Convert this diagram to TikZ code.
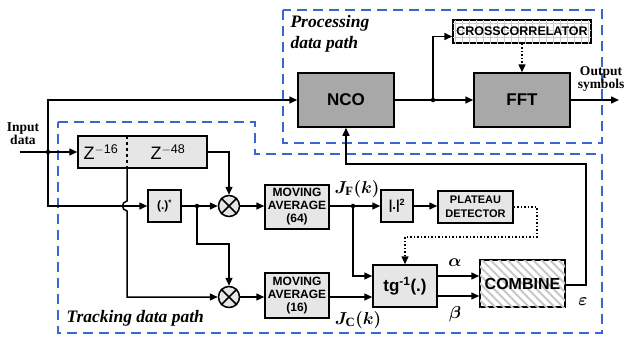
\documentclass[tikz,border=0pt]{standalone}
\usepackage{fontspec}
\setmainfont{Liberation Serif}
\setsansfont{Liberation Sans}
\usetikzlibrary{arrows.meta,patterns.meta}
\newcommand{\fsz}[2]{\fontsize{#1}{#2}\selectfont}

\begin{document}
\begin{tikzpicture}[x=1pt,y=-1pt]
    \definecolor{mypath}{RGB}{60,100,215}
    \definecolor{mydark}{RGB}{168,168,168}
    \definecolor{mylight}{RGB}{230,230,230}
    \tikzset{
        blkbox/.style={draw, line width=1.5pt, fill=mylight, inner sep=0pt,
            align=center, font=\sffamily\bfseries\fsz{12}{13}},
        darkbox/.style={blkbox, fill=mydark, font=\sffamily\bfseries\fsz{17}{19}},
        mulnode/.style={draw, circle, line width=1.5pt, fill=mylight,
            minimum size=21pt, inner sep=0pt},
        sig/.style={line width=1.5pt, -{Triangle[length=8pt,width=7pt]}},
        dotsig/.style={sig, dotted},
        jdot/.style={fill, circle, inner sep=0pt, minimum size=4.5pt},
        pathbox/.style={draw=mypath, line width=1.6pt, dash pattern=on 10pt off 6pt},
        lbl/.style={font=\bfseries\fsz{13.5}{15}, align=center},
        pathlbl/.style={font=\bfseries\itshape\fsz{17.5}{21}, align=left, anchor=west},
        mathlbl/.style={font=\boldmath\fsz{18}{20}}
    }

    \fill[white] (0,0) rectangle (629,338);
    \useasboundingbox (0,0) rectangle (629,338);

    \draw[pathbox] (283,10) rectangle (602,143);
    \draw[pathbox] (58,122) -- (255,122) -- (255,154) -- (602,154) -- (602,333) -- (58,333) -- cycle;
    \node[pathlbl] at (287,34) {Processing\\data path};
    \node[pathlbl] at (63,318) {Tracking data path};

    \node[darkbox, minimum width=96pt, minimum height=54pt] (nco) at (346,100) {NCO};
    \node[darkbox, minimum width=96pt, minimum height=54pt] (fft) at (522,100) {FFT};
    \node[blkbox, minimum width=138pt, minimum height=23pt, fill=white,
        postaction={pattern={Hatch[angle=0,distance=7pt,line width=0.5pt]}, pattern color=black!20},
        font=\sffamily\bfseries\fsz{12.5}{14}] (xcorr) at (522,31.5) {CROSSCORRELATOR};

    \node[blkbox, minimum width=129pt, minimum height=32pt] (zbox) at (142.5,152) {};
    \node[font=\sffamily\fsz{18}{20}] (z16) at (101,152) {Z\textsuperscript{$-$16}};
    \node[font=\sffamily\fsz{18}{20}] (z48) at (168,152) {Z\textsuperscript{$-$48}};
    \coordinate (tap) at (127,168);
    \draw[line width=1.2pt, dashed] (127,136) -- (tap);

    \node[blkbox, minimum width=33pt, minimum height=32pt, font=\sffamily\bfseries\fsz{12}{14}] (conj) at (164.5,206) {(.)\textsuperscript{*}};
    \node[mulnode] (mul1) at (229,206) {};
    \node[mulnode] (mul2) at (229,297) {};
    \foreach \m in {mul1,mul2} {
        \draw[line width=1.5pt] (\m.north west) -- (\m.south east);
        \draw[line width=1.5pt] (\m.north east) -- (\m.south west);
    }
    \node[blkbox, minimum width=64pt, minimum height=44pt] (ma64) at (297,207) {MOVING\\AVERAGE\\(64)};
    \node[blkbox, minimum width=64pt, minimum height=45pt] (ma16) at (297,295.5) {MOVING\\AVERAGE\\(16)};
    \node[blkbox, minimum width=32pt, minimum height=32pt, font=\sffamily\bfseries\fsz{13}{15}] (abs) at (397,206) {|.|\textsuperscript{2}};
    \node[blkbox, minimum width=75pt, minimum height=32pt, font=\sffamily\bfseries\fsz{11}{14}] (plat) at (475.5,207) {PLATEAU\\DETECTOR};
    \node[blkbox, minimum width=64pt, minimum height=42pt, font=\sffamily\bfseries\fsz{17}{19}] (tg) at (405,286) {tg\textsuperscript{-1}(.)};
    \node[blkbox, minimum width=85pt, minimum height=47pt, fill=white,
        postaction={pattern={Lines[angle=-45,distance=6pt,line width=2pt]}, pattern color=black!22},
        font=\sffamily\bfseries\fsz{16}{18}] (comb) at (522.5,283.5) {COMBINE};

    \node[jdot] (j0) at (48,152) {};
    \node[jdot] (j1) at (197,206) {};
    \node[jdot] (j2) at (353,206) {};
    \node[jdot] (j3) at (433,100) {};
    \coordinate (in) at (20,152);
    \coordinate (out) at (619,100);
    \coordinate (k1) at (229,244);
    \coordinate (d1) at (537,237);
    \coordinate (fb) at (586,164);
    \coordinate (c16) at (329,297);
    \coordinate (ce) at (565,285);

    \draw[sig] (in) -- (zbox.west);
    \draw[sig] (j0.center) |- (nco.west);
    \draw[sig] (j0.center) |- (conj.west);
    \draw[sig] (zbox.east) -| (mul1.north);
    \draw[sig] (tap) -- (127,201) .. controls (121,202) and (121,210) .. (127,211) -- (127,297) -- (mul2.west);
    \draw[sig] (conj.east) -- (mul1.west);
    \draw[sig] (j1.center) |- (k1) -- (mul2.north);
    \draw[sig] (mul1.east) -- (mul1.east -| ma64.west);
    \draw[sig] (mul2.east) -- (mul2.east -| ma16.west);
    \draw[sig] (ma64.east |- abs.west) -- (abs.west);
    \draw[sig] (j2.center) |- ([yshift=10pt]tg.west);
    \draw[sig] (c16) -- (c16 -| tg.west);
    \draw[sig] (abs.east) -- (abs.east -| plat.west);
    \draw[dotsig] (plat.east) -| (d1) -| (tg.north);
    \draw[sig] ([yshift=10pt]tg.east) -- ([yshift=10pt]tg.east -| comb.west);
    \draw[sig] ([yshift=-10pt]tg.east) -- ([yshift=-10pt]tg.east -| comb.west);
    \draw[sig] (ce) -| (fb) -| (nco.south);
    \draw[sig] (nco.east) -- (fft.west);
    \draw[sig] (j3.center) |- ([yshift=-5pt]xcorr.west);
    \draw[dotsig] (xcorr.south) -- (fft.north);
    \draw[sig] (fft.east) -- (out);

    \node[lbl] (inlbl) at (23,134) {Input\\[-2pt]data};
    \node[lbl] (outlbl) at (601,79) {Output\\[-2pt]symbols};
    \node[mathlbl] (jf) at (357,189) {$J_{\mathrm{F}}(k)$};
    \node[mathlbl] (jc) at (358,320) {$J_{\mathrm{C}}(k)$};
    \node[mathlbl] (al) at (455,263) {$\alpha$};
    \node[mathlbl] (be) at (455,314) {$\beta$};
    \node[mathlbl] (ep) at (583,302) {$\varepsilon$};
\end{tikzpicture}
\end{document}
